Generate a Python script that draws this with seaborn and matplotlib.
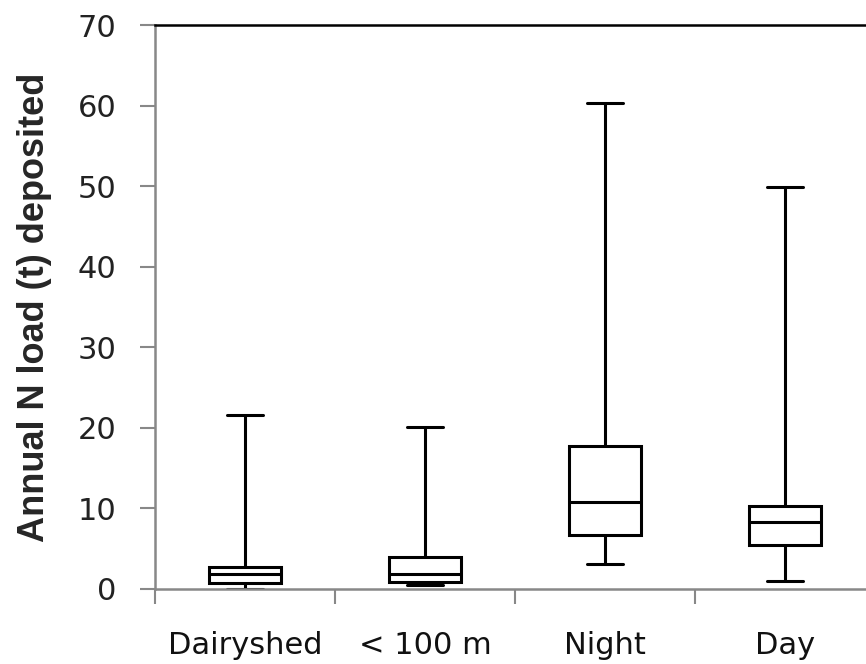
import numpy as np
import pandas as pd
import matplotlib
matplotlib.use("Agg")
import matplotlib.pyplot as plt
import seaborn as sns

# Box summary: min, Q1, median, Q3, max
categories = ["Dairyshed", "< 100 m", "Night", "Day"]
mins = [0.0, 0.5, 3.1, 1.0]
q1s = [0.7, 0.9, 6.7, 5.5]
medians = [1.8, 1.9, 10.8, 8.3]
q3s = [2.7, 4.0, 17.7, 10.3]
maxs = [21.6, 20.1, 60.4, 49.9]

# five points per group reproduce the quartiles exactly
rows = []
for i, cat in enumerate(categories):
    for v in [mins[i], q1s[i], medians[i], q3s[i], maxs[i]]:
        rows.append({"group": cat, "load": v})
df = pd.DataFrame(rows)

sns.set_style("white")
plt.rcParams["font.family"] = ["DejaVu Sans"]

fig = plt.figure(figsize=(8.66, 6.64), dpi=100)
ax = fig.add_axes([0.179, 0.113, 0.821, 0.849])

lw = 2.2
sns.boxplot(data=df, x="group", y="load", order=categories, whis=(0, 100),
            width=0.4, color="white", linecolor="black", linewidth=lw,
            showfliers=False, ax=ax)

ax.set_xlim(-0.5, 3.45)
ax.set_ylim(0, 70)
ax.set_yticks(np.arange(0, 71, 10))
ax.set_xlabel("")
ax.set_ylabel("Annual N load (t) deposited", fontsize=26, fontweight="bold",
              family="Liberation Sans")
ax.yaxis.set_label_coords(-0.145, 0.5)

# category labels without marks, tick marks on group boundaries
ax.tick_params(axis="x", which="major", length=0, pad=30, labelsize=22,
               labelcolor="#111111")
ax.set_xticks([-0.5, 0.5, 1.5, 2.5], minor=True)
ax.tick_params(axis="x", which="minor", length=11, width=1.5, color="#888888",
               direction="out", bottom=True)
ax.tick_params(axis="y", length=11, width=1.5, color="#888888", left=True,
               direction="out", pad=17, labelsize=22, labelcolor="#222222")

for s in ["left", "bottom"]:
    ax.spines[s].set_color("#888888")
    ax.spines[s].set_linewidth(1.8)
ax.spines["top"].set_color("black")
ax.spines["top"].set_linewidth(1.8)
ax.spines["right"].set_visible(False)

fig.savefig("out.png", dpi=100)
